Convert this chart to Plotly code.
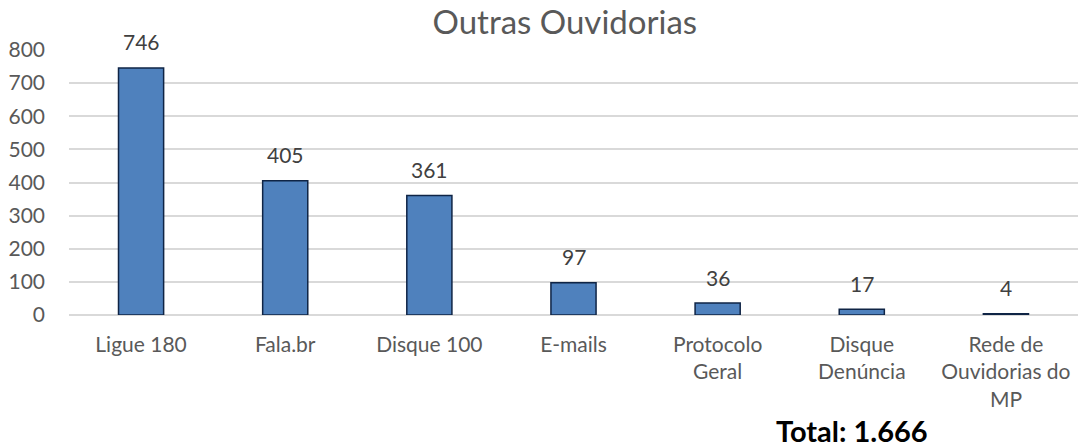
import plotly.graph_objects as go

categories = ["Ligue 180", "Fala.br", "Disque 100", "E-mails", "Protocolo<br>Geral",
              "Disque<br>Denúncia", "Rede de<br>Ouvidorias do<br>MP"]
values = [746, 405, 361, 97, 36, 17, 4]
y_ticks = [0, 100, 200, 300, 400, 500, 600, 700, 800]
title_text = "Outras Ouvidorias"
total_text = "Total: 1.666"

FONT = "Lato, 'Open Sans', sans-serif"

fig = go.Figure()
fig.add_trace(go.Bar(
    x=categories, y=values,
    marker=dict(color="#4F81BD", line=dict(color="#0F2445", width=1.5)),
    width=0.313,
    cliponaxis=False,
))

for c, v in zip(categories, values):
    fig.add_annotation(x=c, y=v, text=str(v), showarrow=False, xanchor="center",
                       yanchor="middle", yshift=26,
                       font=dict(family=FONT, size=21, color="#404040"))

fig.update_layout(
    width=1080, height=448,
    margin=dict(l=69, r=2, t=50, b=133),
    paper_bgcolor="white", plot_bgcolor="white",
    showlegend=False,
    title=dict(text=title_text, x=0.523, xanchor="center", y=0.949, yanchor="middle",
               font=dict(family=FONT, size=33, color="#595959")),
    font=dict(family=FONT, size=21, color="#595959"),
)
fig.update_xaxes(showgrid=False, showline=False, ticks="", tickangle=0,
                 tickfont=dict(size=21, color="#595959"), ticklabelstandoff=15)
fig.update_yaxes(range=[0, 800], tickvals=y_ticks, showgrid=True, gridcolor="#D9D9D9", gridwidth=1.5,
                 zeroline=True, zerolinecolor="#D9D9D9", zerolinewidth=1.5, showline=False,
                 ticks="", tickfont=dict(size=21, color="#595959"), ticklabelstandoff=23)

fig.add_annotation(text="<b>" + total_text + "</b>", xref="paper", yref="paper",
                   x=0.776, y=-0.435, xanchor="center", yanchor="middle", showarrow=False,
                   font=dict(family=FONT, size=29, color="#000000"))

fig.write_html("out.html", config={"displayModeBar": False},
               post_script="document.body.style.margin='0px';")
